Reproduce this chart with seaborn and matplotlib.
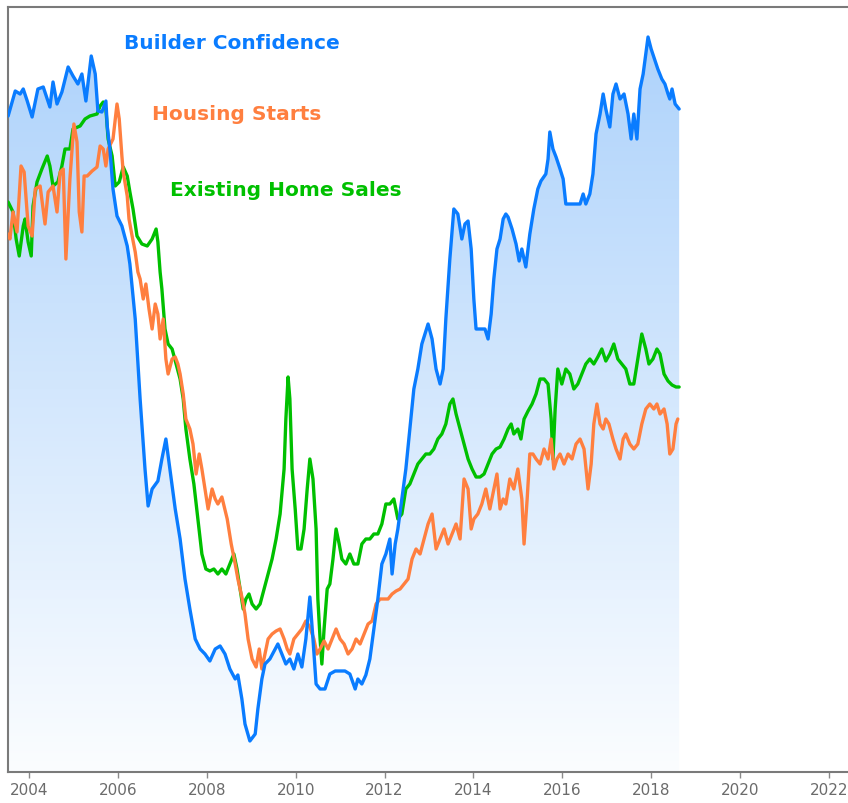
import matplotlib
matplotlib.use("Agg")
import matplotlib.pyplot as plt
from matplotlib.colors import LinearSegmentedColormap
import seaborn as sns
import numpy as np

# Builder Confidence (index)
bc_year = [2003.53, 2003.69, 2003.80, 2003.87, 2003.96, 2004.07, 2004.20, 2004.32, 2004.47, 2004.54,
           2004.63, 2004.74, 2004.88, 2004.99, 2005.10, 2005.19, 2005.28, 2005.40, 2005.49, 2005.55,
           2005.64, 2005.73, 2005.76, 2005.82, 2005.89, 2005.98, 2006.09, 2006.21, 2006.27, 2006.39,
           2006.50, 2006.61, 2006.68, 2006.77, 2006.90, 2006.99, 2007.08, 2007.17, 2007.29, 2007.40,
           2007.51, 2007.62, 2007.74, 2007.85, 2007.96, 2008.07, 2008.19, 2008.30, 2008.41, 2008.52,
           2008.64, 2008.70, 2008.79, 2008.86, 2008.97, 2009.09, 2009.15, 2009.24, 2009.31, 2009.42,
           2009.54, 2009.60, 2009.69, 2009.78, 2009.87, 2009.96, 2010.05, 2010.14, 2010.23, 2010.32,
           2010.39, 2010.46, 2010.55, 2010.66, 2010.77, 2010.89, 2011.00, 2011.11, 2011.22, 2011.34,
           2011.40, 2011.49, 2011.58, 2011.67, 2011.76, 2011.85, 2011.94, 2012.03, 2012.12, 2012.17,
           2012.24, 2012.30, 2012.39, 2012.48, 2012.57, 2012.66, 2012.75, 2012.84, 2012.98, 2013.07,
           2013.16, 2013.25, 2013.32, 2013.38, 2013.47, 2013.56, 2013.65, 2013.74, 2013.81, 2013.88,
           2013.95, 2014.01, 2014.06, 2014.15, 2014.26, 2014.33, 2014.40, 2014.46, 2014.53, 2014.60,
           2014.67, 2014.73, 2014.78, 2014.87, 2014.96, 2015.03, 2015.09, 2015.18, 2015.27, 2015.36,
           2015.45, 2015.52, 2015.63, 2015.68, 2015.72, 2015.79, 2015.86, 2015.95, 2016.02, 2016.08,
           2016.17, 2016.29, 2016.40, 2016.47, 2016.53, 2016.62, 2016.69, 2016.76, 2016.85, 2016.92,
           2016.98, 2017.07, 2017.14, 2017.21, 2017.30, 2017.39, 2017.48, 2017.55, 2017.61, 2017.68,
           2017.75, 2017.82, 2017.88, 2017.93, 2018.00, 2018.09, 2018.15, 2018.24, 2018.31, 2018.38,
           2018.42, 2018.47, 2018.54, 2018.63]
bc_val = [65.6, 68.1, 67.8, 68.3, 67.1, 65.5, 68.3, 68.5, 66.5, 69.0,
          66.8, 68.0, 70.5, 69.6, 68.8, 69.8, 67.1, 71.6, 69.8, 66.1,
          66.0, 67.1, 64.6, 62.3, 58.3, 55.6, 54.6, 52.6, 50.8, 45.3,
          37.3, 30.3, 26.6, 28.3, 29.1, 31.3, 33.3, 30.3, 26.3, 23.3,
          19.3, 16.3, 13.3, 12.3, 11.8, 11.1, 12.3, 12.6, 11.8, 10.3,
          9.3, 9.7, 7.3, 4.8, 3.1, 3.8, 6.3, 9.3, 10.8, 11.3,
          12.3, 12.8, 11.8, 10.8, 11.3, 10.3, 11.8, 10.5, 13.3, 17.5,
          13.3, 8.8, 8.3, 8.3, 9.8, 10.1, 10.1, 10.1, 9.8, 8.3,
          9.3, 8.8, 9.7, 11.3, 14.3, 17.3, 20.8, 21.8, 23.3, 19.8,
          22.8, 24.3, 27.3, 30.3, 34.3, 38.3, 40.3, 42.8, 44.8, 43.3,
          40.3, 38.8, 40.3, 45.3, 51.3, 56.3, 55.8, 53.3, 54.8, 55.1,
          52.3, 47.3, 44.3, 44.3, 44.3, 43.3, 45.8, 49.3, 52.3, 53.3,
          55.3, 55.8, 55.5, 54.3, 52.8, 51.1, 52.3, 50.5, 53.8, 56.3,
          58.3, 59.1, 59.8, 61.3, 64.0, 62.3, 61.5, 60.3, 59.3, 56.8,
          56.8, 56.8, 56.8, 57.8, 56.8, 57.8, 59.8, 63.8, 65.8, 67.8,
          66.3, 64.5, 67.8, 68.8, 67.3, 67.8, 65.8, 63.3, 65.8, 63.3,
          68.3, 69.8, 71.8, 73.5, 72.3, 71.1, 70.3, 69.3, 68.8, 67.8,
          67.3, 68.3, 66.8, 66.3]

# Housing Starts
hs_year = [2003.53, 2003.57, 2003.64, 2003.73, 2003.82, 2003.89, 2003.98, 2004.07, 2004.14, 2004.25,
           2004.36, 2004.43, 2004.54, 2004.63, 2004.70, 2004.77, 2004.83, 2004.92, 2005.01, 2005.08,
           2005.13, 2005.19, 2005.24, 2005.31, 2005.42, 2005.53, 2005.60, 2005.67, 2005.73, 2005.78,
           2005.89, 2005.98, 2006.03, 2006.09, 2006.12, 2006.21, 2006.25, 2006.32, 2006.39, 2006.45,
           2006.50, 2006.57, 2006.63, 2006.70, 2006.77, 2006.84, 2006.90, 2006.95, 2007.02, 2007.08,
           2007.13, 2007.22, 2007.29, 2007.35, 2007.40, 2007.47, 2007.53, 2007.62, 2007.69, 2007.76,
           2007.83, 2007.89, 2007.96, 2008.03, 2008.12, 2008.19, 2008.25, 2008.34, 2008.46, 2008.55,
           2008.64, 2008.70, 2008.79, 2008.86, 2008.93, 2009.02, 2009.11, 2009.18, 2009.24, 2009.31,
           2009.38, 2009.47, 2009.56, 2009.65, 2009.74, 2009.81, 2009.87, 2009.96, 2010.05, 2010.14,
           2010.23, 2010.32, 2010.41, 2010.48, 2010.55, 2010.64, 2010.73, 2010.82, 2010.91, 2011.00,
           2011.09, 2011.18, 2011.27, 2011.36, 2011.45, 2011.54, 2011.63, 2011.72, 2011.81, 2011.90,
           2011.99, 2012.08, 2012.17, 2012.26, 2012.35, 2012.44, 2012.53, 2012.62, 2012.71, 2012.80,
           2012.89, 2012.98, 2013.07, 2013.16, 2013.25, 2013.34, 2013.43, 2013.52, 2013.61, 2013.70,
           2013.79, 2013.88, 2013.95, 2014.01, 2014.10, 2014.19, 2014.28, 2014.37, 2014.46, 2014.53,
           2014.60, 2014.67, 2014.73, 2014.82, 2014.91, 2015.00, 2015.09, 2015.14, 2015.21, 2015.27,
           2015.34, 2015.41, 2015.50, 2015.59, 2015.68, 2015.75, 2015.81, 2015.88, 2015.95, 2016.04,
           2016.13, 2016.22, 2016.31, 2016.40, 2016.49, 2016.58, 2016.65, 2016.71, 2016.78, 2016.85,
           2016.92, 2016.98, 2017.05, 2017.14, 2017.21, 2017.30, 2017.37, 2017.43, 2017.52, 2017.61,
           2017.70, 2017.79, 2017.88, 2017.97, 2018.06, 2018.13, 2018.20, 2018.29, 2018.36, 2018.42,
           2018.49, 2018.56, 2018.60]
hs_val = [53.8, 53.3, 56.0, 54.0, 60.6, 60.0, 54.6, 53.6, 58.3, 58.6,
          54.8, 58.0, 58.6, 56.0, 60.0, 60.3, 51.3, 59.3, 64.8, 63.0,
          56.0, 54.0, 59.6, 59.6, 60.1, 60.5, 62.6, 62.3, 60.6, 62.3,
          63.3, 66.8, 65.3, 61.6, 60.0, 57.6, 55.3, 53.6, 52.0, 50.0,
          49.3, 47.3, 48.8, 46.3, 44.3, 46.8, 45.8, 43.3, 45.3, 41.3,
          39.8, 41.3, 41.5, 40.8, 39.8, 37.8, 35.3, 34.3, 32.8, 29.8,
          31.8, 30.3, 28.3, 26.3, 28.3, 27.3, 26.8, 27.5, 25.3, 22.8,
          20.8, 19.3, 17.5, 15.8, 13.3, 11.3, 10.5, 12.3, 10.3, 11.8,
          13.3, 13.8, 14.1, 14.3, 13.3, 12.3, 11.8, 13.3, 13.8, 14.3,
          15.1, 14.5, 13.3, 11.8, 12.3, 13.1, 12.3, 13.3, 14.3, 13.3,
          12.8, 11.8, 12.3, 13.3, 12.8, 13.8, 14.8, 15.1, 16.8, 17.3,
          17.3, 17.3, 17.8, 18.1, 18.3, 18.8, 19.3, 21.3, 22.3, 21.8,
          23.3, 24.8, 25.8, 22.3, 23.3, 24.3, 22.8, 23.8, 24.8, 23.3,
          29.3, 28.3, 24.3, 25.3, 25.8, 26.8, 28.3, 26.3, 28.3, 29.8,
          26.3, 27.3, 26.8, 29.3, 28.3, 30.3, 27.3, 22.8, 27.3, 31.8,
          31.8, 31.3, 30.8, 32.3, 31.3, 33.3, 30.3, 31.3, 31.8, 30.8,
          31.8, 31.3, 32.8, 33.3, 32.3, 28.3, 30.8, 34.8, 36.8, 34.8,
          34.3, 35.3, 34.8, 33.3, 32.3, 31.3, 33.3, 33.8, 32.8, 32.3,
          32.8, 34.8, 36.3, 36.8, 36.3, 36.8, 35.8, 36.3, 34.8, 31.8,
          32.3, 34.8, 35.3]

# Existing Home Sales
ehs_year = [2003.53, 2003.64, 2003.71, 2003.78, 2003.87, 2003.91, 2003.98, 2004.05, 2004.09, 2004.18,
            2004.29, 2004.41, 2004.47, 2004.54, 2004.65, 2004.74, 2004.81, 2004.92, 2004.99, 2005.15,
            2005.26, 2005.37, 2005.53, 2005.60, 2005.67, 2005.73, 2005.78, 2005.87, 2005.94, 2006.03,
            2006.12, 2006.21, 2006.27, 2006.34, 2006.43, 2006.54, 2006.66, 2006.77, 2006.86, 2006.90,
            2006.95, 2006.99, 2007.06, 2007.13, 2007.22, 2007.31, 2007.40, 2007.47, 2007.53, 2007.62,
            2007.71, 2007.80, 2007.89, 2007.98, 2008.07, 2008.16, 2008.25, 2008.34, 2008.43, 2008.52,
            2008.61, 2008.68, 2008.75, 2008.82, 2008.88, 2008.95, 2009.02, 2009.11, 2009.20, 2009.29,
            2009.38, 2009.47, 2009.56, 2009.65, 2009.74, 2009.78, 2009.83, 2009.87, 2009.92, 2009.99,
            2010.05, 2010.12, 2010.19, 2010.26, 2010.32, 2010.39, 2010.46, 2010.50, 2010.55, 2010.59,
            2010.64, 2010.71, 2010.77, 2010.84, 2010.91, 2010.98, 2011.04, 2011.13, 2011.22, 2011.31,
            2011.40, 2011.49, 2011.58, 2011.67, 2011.76, 2011.85, 2011.94, 2012.03, 2012.12, 2012.21,
            2012.30, 2012.39, 2012.48, 2012.57, 2012.66, 2012.75, 2012.84, 2012.93, 2013.02, 2013.11,
            2013.20, 2013.29, 2013.38, 2013.47, 2013.54, 2013.61, 2013.70, 2013.79, 2013.88, 2013.97,
            2014.06, 2014.15, 2014.24, 2014.33, 2014.42, 2014.51, 2014.60, 2014.69, 2014.78, 2014.85,
            2014.91, 2015.00, 2015.07, 2015.14, 2015.23, 2015.32, 2015.41, 2015.50, 2015.59, 2015.68,
            2015.75, 2015.79, 2015.84, 2015.90, 2015.99, 2016.08, 2016.17, 2016.26, 2016.35, 2016.44,
            2016.53, 2016.62, 2016.71, 2016.80, 2016.89, 2016.98, 2017.07, 2017.16, 2017.25, 2017.34,
            2017.43, 2017.52, 2017.61, 2017.70, 2017.79, 2017.88, 2017.95, 2018.04, 2018.13, 2018.20,
            2018.29, 2018.38, 2018.47, 2018.56, 2018.63]
ehs_val = [57.0, 56.0, 53.3, 51.6, 54.6, 55.3, 53.0, 51.6, 56.6, 59.0,
           60.3, 61.6, 60.6, 58.6, 59.0, 60.6, 62.3, 62.3, 64.3, 64.6,
           65.3, 65.6, 65.8, 66.6, 67.0, 66.3, 63.3, 61.6, 58.6, 59.0,
           60.5, 59.6, 58.0, 56.3, 53.6, 52.8, 52.6, 53.3, 54.3, 53.0,
           50.0, 48.3, 44.3, 42.8, 42.3, 40.8, 39.3, 37.3, 34.3, 31.3,
           28.8, 25.3, 21.8, 20.3, 20.1, 20.3, 19.8, 20.3, 19.8, 20.8,
           21.8, 20.3, 18.3, 16.3, 17.3, 17.8, 16.8, 16.3, 16.8, 18.3,
           19.8, 21.3, 23.3, 25.8, 30.3, 35.3, 39.5, 37.3, 30.3, 26.3,
           22.3, 22.3, 24.3, 28.3, 31.3, 29.3, 24.3, 17.3, 13.3, 10.8,
           14.3, 18.3, 18.8, 21.3, 24.3, 22.8, 21.3, 20.8, 21.8, 20.8,
           20.8, 22.8, 23.3, 23.3, 23.8, 23.8, 24.8, 26.8, 26.8, 27.3,
           25.3, 25.8, 28.3, 28.8, 29.8, 30.8, 31.3, 31.8, 31.8, 32.3,
           33.3, 33.8, 34.8, 36.8, 37.3, 35.8, 34.3, 32.8, 31.3, 30.3,
           29.5, 29.5, 29.8, 30.8, 31.8, 32.3, 32.5, 33.3, 34.3, 34.8,
           33.8, 34.3, 33.3, 35.3, 36.1, 36.8, 37.8, 39.3, 39.3, 38.8,
           35.3, 31.3, 36.3, 40.3, 38.8, 40.3, 39.8, 38.3, 38.8, 39.8,
           40.8, 41.3, 40.8, 41.5, 42.3, 41.1, 41.8, 42.8, 41.3, 40.8,
           40.3, 38.8, 38.8, 41.3, 43.8, 42.3, 40.8, 41.3, 42.3, 41.8,
           39.8, 39.1, 38.7, 38.5, 38.5]

year_ticks = list(range(2004, 2023, 2))

blue = "#0a7cff"
orange = "#ff7f3f"
green = "#00c000"

sns.set_style("white")
fig = plt.figure(figsize=(8.48, 8.04), dpi=100)
# axes run a little past the right edge of the figure, like the cropped original
ax = fig.add_axes([8 / 848, 31 / 804, 844 / 848, 765 / 804])

x0, x1 = 2003.527, 2022.52
y0, y1 = 0, 76.5
ax.set_xlim(x0, x1)
ax.set_ylim(y0, y1)

# gradient fill under builder confidence
grad = np.linspace(1, 0, 256).reshape(-1, 1)
cmap = LinearSegmentedColormap.from_list("fill", ["#fbfdff", "#abd1fb"])
img = ax.imshow(grad, extent=[x0, x1, y0, y1], aspect="auto", cmap=cmap,
                origin="upper", zorder=1)
poly = ax.fill_between(bc_year, bc_val, y0, color="none", lw=0)
img.set_clip_path(poly.get_paths()[0], transform=ax.transData)

sns.lineplot(x=bc_year, y=bc_val, ax=ax, color=blue, lw=2.4, sort=False,
             estimator=None, zorder=4)
sns.lineplot(x=ehs_year, y=ehs_val, ax=ax, color=green, lw=2.4, sort=False,
             estimator=None, zorder=3)
sns.lineplot(x=hs_year, y=hs_val, ax=ax, color=orange, lw=2.4, sort=False,
             estimator=None, zorder=3)

ax.text(0.137, 0.954, "Builder Confidence", transform=ax.transAxes, color=blue,
        fontsize=14.5, fontweight="bold", va="center", ha="left")
ax.text(0.171, 0.861, "Housing Starts", transform=ax.transAxes, color=orange,
        fontsize=14.5, fontweight="bold", va="center", ha="left")
ax.text(0.192, 0.761, "Existing Home Sales", transform=ax.transAxes, color=green,
        fontsize=14.5, fontweight="bold", va="center", ha="left")

ax.set_xticks(year_ticks)
ax.set_xticklabels([str(y) for y in year_ticks])
ax.set_yticks([])
ax.tick_params(axis="x", colors="#8a8a8a", labelcolor="#6b6b6b", labelsize=11,
               length=4, width=1, direction="out", pad=3, bottom=True)
for side in ["left", "top", "bottom"]:
    ax.spines[side].set_color("#7a7a7a")
    ax.spines[side].set_linewidth(1.5)
ax.spines["right"].set_visible(False)
ax.set_xlabel("")
ax.set_ylabel("")

fig.savefig("out.png", dpi=100, facecolor="white")
